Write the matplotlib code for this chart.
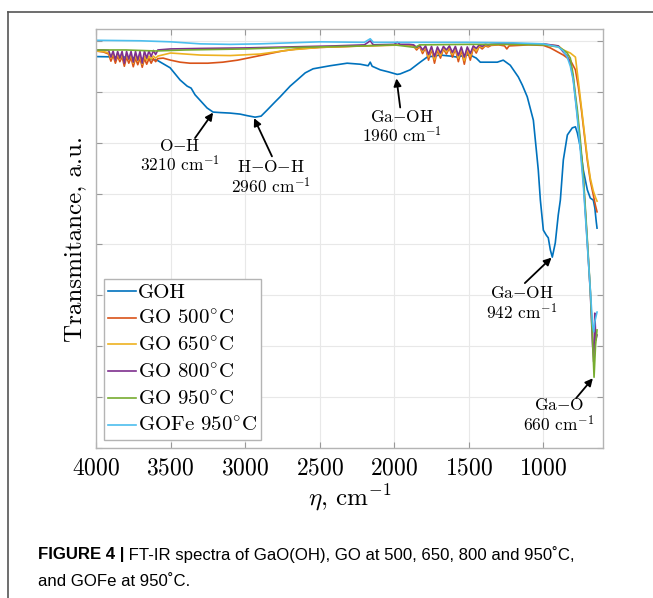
import matplotlib
matplotlib.use('Agg')
import matplotlib.pyplot as plt
from matplotlib.lines import Line2D

plt.rcParams['font.family'] = ['cmr10']
plt.rcParams['mathtext.fontset'] = 'cm'
plt.rcParams['axes.unicode_minus'] = False
plt.rcParams['axes.formatter.use_mathtext'] = True

# ---- data (wavenumber in cm^-1, transmittance in arbitrary units) ----
goh_wn = [4000, 3800, 3705, 3591, 3503, 3436, 3389, 3362, 3336, 3255, 3215, 3168, 3101, 3034,
          2987, 2933, 2893, 2852, 2799, 2765, 2698, 2651, 2597, 2544, 2430, 2316, 2228, 2175,
          2161, 2148, 2094, 2040, 1980, 1960, 1893, 1826, 1779, 1691, 1624, 1577, 1524, 1490,
          1450, 1423, 1356, 1309, 1269, 1222, 1168, 1141, 1108, 1067, 1047, 1034, 1020, 1000,
          980, 967, 953, 940, 920, 900, 886, 866, 839, 806, 785, 772, 752, 732, 705, 685, 665,
          655, 645, 640]
goh_t = [76.9, 76.8, 76.6, 76.2, 74.7, 72.3, 71.1, 70.7, 69.4, 66.8, 66.0, 65.9, 65.8, 65.6,
         65.3, 65.0, 65.2, 66.4, 68.0, 69.0, 71.1, 72.3, 73.7, 74.5, 75.1, 75.6, 75.4, 75.1,
         75.8, 75.0, 74.3, 73.9, 73.4, 73.5, 74.3, 75.8, 76.8, 77.2, 77.0, 76.8, 77.2, 77.2,
         76.6, 75.8, 75.8, 75.8, 76.2, 75.2, 72.9, 71.3, 69.0, 64.4, 58.5, 54.6, 48.7, 42.8,
         41.8, 41.3, 38.9, 37.5, 40.3, 45.8, 48.7, 56.6, 61.5, 62.9, 63.1, 61.9, 59.1, 54.6,
         50.7, 49.1, 48.7, 47.2, 44.4, 43.2]

go500_wn = [4000, 3950, 3915, 3900, 3885, 3870, 3855, 3840, 3825, 3810, 3795, 3780, 3765, 3750,
            3735, 3720, 3705, 3690, 3675, 3660, 3645, 3630, 3615, 3600, 3585, 3550, 3500, 3436,
            3370, 3250, 3150, 3050, 2950, 2850, 2750, 2650, 2500, 2300, 2100, 1900,
            1870, 1850, 1830, 1810, 1790, 1770, 1750, 1730, 1710, 1690, 1670, 1650, 1630, 1610,
            1590, 1570, 1550, 1530, 1510, 1490, 1470, 1450, 1430, 1410, 1390, 1370, 1350,
            1300, 1260, 1245, 1230, 1100, 1000, 953, 866, 819, 785, 765, 745, 725, 705, 685,
            665, 651, 640]
go500_t = [78.0, 77.8, 77.4, 76.0, 77.2, 75.6, 77.0, 75.9, 76.9, 75.0, 76.8, 75.6, 76.7, 74.9,
           76.6, 75.3, 76.6, 74.8, 76.5, 75.4, 76.5, 75.6, 76.5, 75.9, 76.5, 76.6, 76.2, 75.8,
           75.6, 75.6, 75.8, 76.2, 76.8, 77.4, 78.0, 78.4, 78.7, 78.9, 79.1, 79.2,
           79.0, 78.2, 78.9, 77.5, 78.6, 76.2, 78.4, 75.6, 78.2, 76.6, 78.4, 77.4, 78.6, 76.8,
           78.4, 75.9, 78.2, 75.4, 78.2, 76.2, 78.6, 77.6, 78.9, 78.4, 79.0, 78.8, 79.1,
           79.2, 79.0, 78.4, 79.0, 79.2, 79.1, 78.6, 77.2, 76.2, 74.3, 70.9, 66.5, 61.5, 56.5,
           52.5, 49.7, 47.7, 46.4]

go650_wn = [4000, 3950, 3915, 3900, 3885, 3870, 3855, 3840, 3825, 3810, 3795, 3780, 3765, 3750,
            3735, 3720, 3705, 3690, 3675, 3660, 3645, 3630, 3615, 3600, 3585, 3500, 3300, 3100,
            2900, 2700, 2500, 2200, 1900,
            1870, 1850, 1830, 1810, 1790, 1770, 1750, 1730, 1710, 1690, 1670, 1650, 1630, 1610,
            1590, 1570, 1550, 1530, 1510, 1490, 1470, 1450, 1430, 1410, 1390, 1370, 1350,
            1300, 1000, 900, 866, 819, 785, 765, 745, 725, 705, 685, 665, 650, 640]
go650_t = [78.0, 77.9, 77.6, 76.6, 77.5, 76.2, 77.4, 76.4, 77.3, 75.8, 77.2, 76.3, 77.2, 75.6,
           77.1, 76.0, 77.0, 75.4, 77.0, 76.2, 77.0, 76.4, 77.0, 76.6, 77.0, 77.6, 77.2, 77.1,
           77.4, 78.2, 78.7, 79.0, 79.2,
           79.1, 78.5, 79.0, 77.9, 78.8, 76.8, 78.6, 76.3, 78.5, 77.1, 78.6, 77.8, 78.8, 77.3,
           78.6, 76.6, 78.5, 76.1, 78.5, 76.9, 78.8, 78.0, 79.0, 78.7, 79.1, 79.0, 79.2,
           79.3, 79.3, 79.0, 78.2, 77.6, 76.8, 72.0, 67.0, 62.0, 57.0, 53.0, 50.5, 49.2, 48.5]

go800_wn = [4000, 3950, 3915, 3900, 3885, 3870, 3855, 3840, 3825, 3810, 3795, 3780, 3765, 3750,
            3735, 3720, 3705, 3690, 3675, 3660, 3645, 3630, 3615, 3600, 3585, 3500, 3300, 3000,
            2700, 2400, 2200, 2161, 2140, 2000, 1980, 1960, 1900,
            1870, 1850, 1830, 1810, 1790, 1770, 1750, 1730, 1710, 1690, 1670, 1650, 1630, 1610,
            1590, 1570, 1550, 1530, 1510, 1490, 1470, 1450, 1430, 1410, 1390, 1370, 1350,
            1300, 1000, 900, 866, 840, 819, 800, 785, 772, 752, 732, 705, 685, 670, 662, 655,
            648, 640]
go800_t = [78.2, 78.2, 78.1, 76.8, 78.0, 76.2, 77.9, 76.6, 77.9, 75.6, 77.9, 76.4, 77.9, 75.8,
           77.9, 76.2, 77.9, 75.6, 78.0, 76.6, 78.0, 76.9, 78.1, 77.3, 78.2, 78.4, 78.5, 78.6,
           78.8, 79.0, 79.2, 80.0, 79.2, 79.3, 79.7, 79.3, 79.3,
           79.2, 78.7, 79.1, 78.2, 79.0, 77.3, 78.9, 76.9, 78.8, 77.6, 78.9, 78.2, 79.0, 77.7,
           78.9, 77.1, 78.8, 76.8, 78.8, 77.5, 79.0, 78.5, 79.2, 78.9, 79.3, 79.2, 79.3,
           79.4, 79.4, 79.0, 77.8, 77.0, 75.6, 72.7, 68.8, 65.4, 59.5, 52.7, 40.3, 30.6, 20.2,
           16.9, 26.5, 21.2, 22.2]

go950_wn = [4000, 3800, 3600, 3400, 3200, 3000, 2800, 2500, 2200, 2000, 1860, 1830, 1500, 1200,
            1000, 900, 866, 840, 819, 800, 785, 772, 752, 732, 705, 685, 670, 660, 650, 640]
go950_t = [78.2, 78.2, 78.0, 78.2, 78.3, 78.4, 78.6, 78.8, 79.0, 79.2, 78.7, 79.2, 79.3, 79.3,
           79.2, 78.8, 78.2, 77.6, 76.6, 73.3, 69.4, 66.4, 60.5, 53.6, 40.9, 31.0, 21.2, 13.9,
           20.2, 23.2]

gofe_wn = [4000, 3700, 3500, 3300, 3100, 2900, 2700, 2500, 2200, 2161, 2140, 2000, 1500, 1200,
           1000, 900, 866, 840, 819, 800, 785, 772, 752, 732, 705, 685, 670, 662, 655, 640]
gofe_t = [80.1, 80.0, 79.8, 79.4, 79.3, 79.4, 79.6, 79.8, 79.7, 80.4, 79.7, 79.7, 79.7, 79.6,
          79.4, 78.8, 78.0, 76.8, 75.0, 72.3, 68.4, 64.8, 58.5, 51.7, 39.9, 31.0, 24.2, 22.8,
          24.8, 26.7]

labels = ['GOH', 'GO 500$^{\\circ}$C', 'GO 650$^{\\circ}$C', 'GO 800$^{\\circ}$C',
          'GO 950$^{\\circ}$C', 'GOFe 950$^{\\circ}$C']
colors = ['#0072BD', '#D95319', '#EDB120', '#7E2F8E', '#77AC30', '#4DBEEE']

# peak annotations: label, arrow tip (wn, T), arrow tail (wn, T), text centre (wn, T)
peak_labels = ['O$-$H\n3210 cm$^{-1}$', 'H$-$O$-$H\n2960 cm$^{-1}$', 'Ga$-$OH\n1960 cm$^{-1}$',
               'Ga$-$OH\n942 cm$^{-1}$', 'Ga$-$O\n660 cm$^{-1}$']
peak_tip = [(3215, 65.9), (2940, 64.8), (1985, 72.6), (945, 37.4), (668, 13.7)]
peak_tail = [(3336, 60.9), (2820, 57.3), (1960, 66.9), (1124, 32.4), (780, 9.8)]
peak_text = [(3436, 57.3), (2826, 53.1), (1950, 63.0), (1144, 28.4), (895, 6.3)]

fig = plt.figure(figsize=(6.53, 5.98), dpi=100)
ax = fig.add_axes([96 / 653, 1 - 448 / 598, 507 / 653, 418.7 / 598])

series = [(goh_wn, goh_t), (go500_wn, go500_t), (go650_wn, go650_t),
          (go800_wn, go800_t), (go950_wn, go950_t), (gofe_wn, gofe_t)]
for (wn, t), lab, c in zip(series, labels, colors):
    ax.plot(wn, t, color=c, lw=1.2, label=lab)

for lab, tip, tail, txt in zip(peak_labels, peak_tip, peak_tail, peak_text):
    ax.annotate('', xy=tip, xytext=tail,
                arrowprops=dict(arrowstyle='-|>', color='black', lw=1.3, mutation_scale=11,
                                shrinkA=0, shrinkB=0))
    ax.text(txt[0], txt[1], lab, ha='center', va='center', fontsize=12.5, linespacing=1.05)

ax.set_xlim(4000, 600)
ax.set_ylim(0, 82.26)
ax.set_xticks([4000, 3500, 3000, 2500, 2000, 1500, 1000])
ax.set_yticks(range(0, 90, 10))
ax.set_yticklabels([])
ax.grid(True, color='#e8e8e8', lw=0.8)
ax.set_axisbelow(True)
for s in ax.spines.values():
    s.set_color('#b4b4b4')
    s.set_linewidth(1.0)
ax.tick_params(direction='in', length=4, width=0.8, color='#999999', top=True, right=True,
               labelsize=17, pad=7)
ax.set_xlabel('$\\eta$, cm$^{-1}$', fontsize=18, labelpad=2)
ax.set_ylabel('Transmitance, a.u.', fontsize=18, labelpad=0)

leg = ax.legend(loc='lower left', bbox_to_anchor=(0.015, 0.019), borderaxespad=0,
                fontsize=15, handlelength=1.35, handletextpad=0.1, labelspacing=0.36,
                borderpad=0.2, fancybox=False, framealpha=1, edgecolor='#b4b4b4')
leg.get_frame().set_linewidth(1.0)

# open frame round the panel
fig.add_artist(Line2D([8 / 653, 1], [1 - 12 / 598, 1 - 12 / 598], color='#555555', lw=1.2))
fig.add_artist(Line2D([8 / 653, 8 / 653], [0, 1 - 12 / 598], color='#555555', lw=1.2))

# caption
cap_fam = ['Liberation Sans Narrow', 'Liberation Sans', 'DejaVu Sans']
renderer = fig.canvas.get_renderer()
line1a = 'FIGURE 4 |'
line1b = ' FT-IR spectra of GaO(OH), GO at 500, 650, 800 and 950\u02daC,'
line2 = 'and GOFe at 950\u02daC.'
fs = 12
t1 = fig.text(38 / 653, 1 - 555 / 598, line1a, family=cap_fam, weight='bold', size=fs, va='center')
t2 = fig.text(0, 1 - 555 / 598, line1b, family=cap_fam, size=fs, va='center')
w = t1.get_window_extent(renderer).width + t2.get_window_extent(renderer).width
fs = fs * 537 / w
t1.set_fontsize(fs)
t2.set_fontsize(fs)
x1 = t1.get_window_extent(renderer).x1
t2.set_x(x1 / 653)
fig.text(38 / 653, 1 - 581 / 598, line2, family=cap_fam, size=fs, va='center')

fig.savefig('out.png', dpi=100)
